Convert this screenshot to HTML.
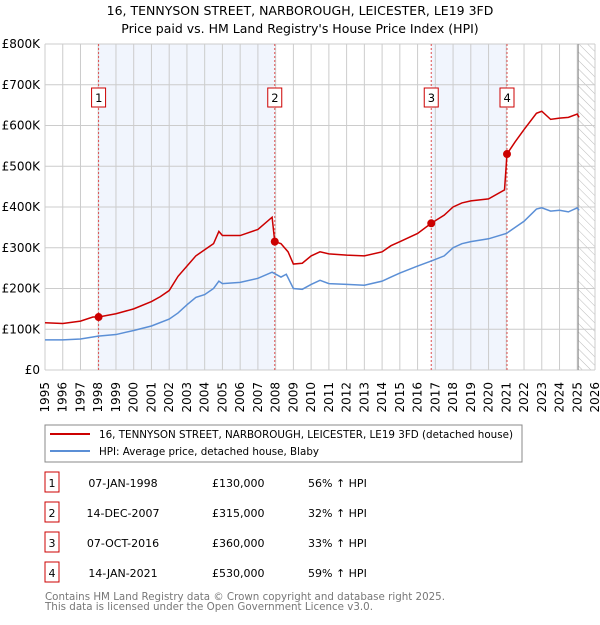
<!DOCTYPE html>
<html><head><meta charset="utf-8"><style>
body{margin:0;background:#fff;}
svg text{font-family:"DejaVu Sans","Liberation Sans",sans-serif;}
</style></head><body>
<svg id="c" width="600" height="620" xmlns="http://www.w3.org/2000/svg">
<defs><pattern id="hatch" width="6" height="6" patternUnits="userSpaceOnUse" patternTransform="rotate(-45)"><line x1="0" y1="0" x2="0" y2="6" stroke="#bbb" stroke-width="1"/></pattern></defs>
<text x="300" y="15" text-anchor="middle" font-size="12.5" fill="#000">16, TENNYSON STREET, NARBOROUGH, LEICESTER, LE19 3FD</text>
<text x="300" y="33" text-anchor="middle" font-size="12.5" fill="#000">Price paid vs. HM Land Registry's House Price Index (HPI)</text>
<g id="plot"></g>
<rect x="45" y="425" width="477" height="37" fill="#fff" stroke="#888"/>
<line x1="50" y1="434" x2="90" y2="434" stroke="#cc0000" stroke-width="2"/>
<text x="99" y="438" font-size="10.5" textLength="414" lengthAdjust="spacingAndGlyphs">16, TENNYSON STREET, NARBOROUGH, LEICESTER, LE19 3FD (detached house)</text>
<line x1="50" y1="451" x2="90" y2="451" stroke="#5b8fd6" stroke-width="2"/>
<text x="99" y="455" font-size="10.5" textLength="220" lengthAdjust="spacingAndGlyphs">HPI: Average price, detached house, Blaby</text>
<g id="table" font-size="11"></g>
<text x="45" y="600" font-size="11" fill="#777" textLength="400" lengthAdjust="spacingAndGlyphs">Contains HM Land Registry data © Crown copyright and database right 2025.</text>
<text x="45" y="610" font-size="11" fill="#777" textLength="328" lengthAdjust="spacingAndGlyphs">This data is licensed under the Open Government Licence v3.0.</text>
</svg>
<script>
const hpiYears=[1995,1996,1997,1998,1999,2000,2001,2002,2002.5,2003,2003.5,2004,2004.5,2004.8,2005,2006,2007,2007.8,2008.3,2008.6,2009,2009.5,2010,2010.5,2011,2012,2013,2014,2014.5,2015,2016,2016.8,2017.5,2018,2018.5,2019,2020,2021,2021.5,2022,2022.7,2023,2023.5,2024,2024.5,2025,2025.1];
const hpiValues=[74,74,76,83,87,97,108,125,140,160,178,185,200,218,212,215,225,240,228,235,200,198,210,220,212,210,208,218,228,238,255,268,280,300,310,315,322,335,350,365,395,398,390,392,388,398,392];
const priceYears=[1995,1996,1997,1997.7,1998.02,1999,2000,2001,2001.5,2002,2002.5,2003,2003.5,2004,2004.5,2004.8,2005,2006,2007,2007.8,2007.95,2008.3,2008.7,2009,2009.5,2010,2010.5,2011,2012,2013,2014,2014.5,2015,2016,2016.77,2017.5,2018,2018.5,2019,2020,2020.9,2021.04,2021.5,2022,2022.7,2023,2023.5,2024,2024.5,2025,2025.1];
const priceValues=[116,114,120,130,130,138,150,168,180,195,230,255,280,295,310,340,330,330,345,375,315,310,290,260,262,280,290,285,282,280,290,305,315,335,360,380,400,410,415,420,442,530,560,590,630,635,615,618,620,628,620];
const saleLabels=["1","2","3","4"];
const saleDates=["07-JAN-1998","14-DEC-2007","07-OCT-2016","14-JAN-2021"];
const saleYears=[1998.02,2007.95,2016.77,2021.04];
const salePrices=[130,315,360,530];
const salePct=["56%","32%","33%","59%"];
const yTicks=[0,100,200,300,400,500,600,700,800];
const xTicks=[1995,1996,1997,1998,1999,2000,2001,2002,2003,2004,2005,2006,2007,2008,2009,2010,2011,2012,2013,2014,2015,2016,2017,2018,2019,2020,2021,2022,2023,2024,2025,2026];
const X0=45,X1=595,Y0=370,Y1=44;
const sx=v=>X0+(v-1995)/31*(X1-X0);
const sy=v=>Y0-v/800*(Y0-Y1);
const NS="http://www.w3.org/2000/svg";
const g=document.getElementById('plot');
function mk(tag,at,parent){const e=document.createElementNS(NS,tag);for(const k in at)e.setAttribute(k,at[k]);(parent||g).appendChild(e);return e;}
let e;
e=mk('rect',{x:sx(saleYears[0]),y:Y1,width:sx(saleYears[1])-sx(saleYears[0]),height:Y0-Y1,fill:'#eef3fc',opacity:0.8});


e=mk('rect',{x:sx(saleYears[2]),y:Y1,width:sx(saleYears[3])-sx(saleYears[2]),height:Y0-Y1,fill:'#eef3fc',opacity:0.8});


e=mk('rect',{x:sx(2025.05),y:Y1,width:X1-sx(2025.05),height:Y0-Y1,fill:'url(#hatch)'});


xTicks.forEach(t=>{e=mk('line',{x1:sx(t),x2:sx(t),y1:Y1,y2:Y0,stroke:'#ccc'});


const tx=mk('text',{x:0,y:0,'font-size':12,transform:`translate(${sx(t)+4},${Y0+12}) rotate(-90)`,'text-anchor':'end'});tx.textContent=t;

});
yTicks.forEach(t=>{e=mk('line',{x1:X0,x2:X1,y1:sy(t),y2:sy(t),stroke:'#ccc'});


const tx=mk('text',{x:40,y:sy(t)+4,'font-size':12,'text-anchor':'end'});tx.textContent=t===0?'£0':'£'+t+'K';

});
e=mk('line',{x1:sx(2025.05),x2:sx(2025.05),y1:Y1,y2:Y0,stroke:'#888'});


saleYears.forEach((y,i)=>{e=mk('line',{x1:sx(y),x2:sx(y),y1:Y1,y2:Y0,stroke:'#e05050','stroke-dasharray':'2,2'});


const b=mk('rect',{x:sx(y)-7,y:88,width:14,height:19,fill:'#fff',stroke:'#cc0000'});


const tx=mk('text',{x:sx(y)-3.5,y:102,'font-size':11.5});tx.textContent=saleLabels[i];

});
e=mk('polyline',{points:hpiYears.map((y,i)=>sx(y)+','+sy(hpiValues[i])).join(' '),fill:'none',stroke:'#5b8fd6','stroke-width':1.5});


e=mk('polyline',{points:priceYears.map((y,i)=>sx(y)+','+sy(priceValues[i])).join(' '),fill:'none',stroke:'#cc0000','stroke-width':1.5});


saleYears.forEach((y,i)=>{e=mk('circle',{cx:sx(y),cy:sy(salePrices[i]),r:4,fill:'#cc0000'});

});
const tb=document.getElementById('table');
saleLabels.forEach((l,i)=>{const yc=483+i*30;
e=mk('rect',{x:45,y:yc-11,width:14,height:20,fill:'#fff',stroke:'#cc0000'},tb);


[[52,l,'middle'],[123,saleDates[i],'middle'],[212,'£'+salePrices[i]+',000','start'],[308,salePct[i]+' \u2191 HPI','start']].forEach(([x,s,a])=>{const tx=mk('text',{x:x,y:yc+4,'text-anchor':a},tb);tx.textContent=s;

});});
</script>
</body></html>
